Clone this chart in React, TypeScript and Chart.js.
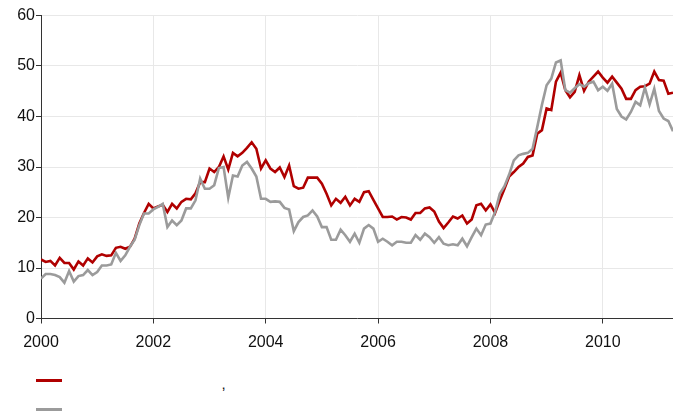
import React, { useEffect, useRef } from "react";
import { Chart, registerables } from "chart.js";

Chart.register(...registerables);

// Monthly series, Jan 2000 onward
const startYear = 2000;
const redValues = [
  11.7, 11.2, 11.4, 10.5, 12.0, 11.0, 11.0, 9.7, 11.3, 10.5, 11.9, 11.1,
  12.3, 12.7, 12.4, 12.5, 14.0, 14.2, 13.8, 14.2, 15.8, 18.8, 20.9, 22.7,
  21.8, 22.2, 22.5, 21.1, 22.7, 21.8, 23.1, 23.7, 23.6, 24.8, 27.0, 27.0,
  29.7, 29.0, 30.0, 32.1, 29.5, 32.8, 32.1, 32.8, 33.8, 34.9, 33.6, 29.7,
  31.3, 29.7, 29.0, 29.9, 28.0, 30.3, 26.2, 25.7, 25.9, 27.9, 27.9, 27.9,
  26.7, 24.7, 22.4, 23.7, 22.9, 24.1, 22.4, 23.7, 23.1, 25.0, 25.2, 23.5,
  21.8, 20.1, 20.1, 20.2, 19.6, 20.1, 20.0, 19.6, 20.9, 20.9, 21.8, 22.0,
  21.2, 19.2, 17.9, 19.0, 20.2, 19.8, 20.4, 18.8, 19.6, 22.4, 22.7, 21.4,
  22.6, 20.9, 23.4, 25.7, 28.1, 29.0, 30.0, 30.7, 32.0, 32.3, 36.6, 37.3,
  41.6, 41.3, 46.9, 48.7, 45.2, 43.8, 44.9, 48.2, 45.1, 46.9, 47.9, 48.9,
  47.7, 46.7, 47.9, 46.7, 45.5, 43.5, 43.5, 45.2, 45.9, 46.0, 46.5, 48.9,
  47.2, 47.1, 44.5, 44.7,
];
const grayValues = [
  7.9, 8.8, 8.8, 8.6, 8.2, 7.1, 9.4, 7.3, 8.4, 8.6, 9.6, 8.6,
  9.2, 10.5, 10.5, 10.7, 13.0, 11.4, 12.5, 14.2, 15.6, 18.5, 20.8, 20.8,
  21.6, 22.1, 22.7, 18.1, 19.4, 18.5, 19.4, 21.8, 21.8, 23.4, 27.7, 25.7,
  25.7, 26.4, 29.8, 30.0, 23.9, 28.3, 28.1, 30.3, 31.0, 29.7, 28.1, 23.7,
  23.7, 23.1, 23.2, 23.1, 21.9, 21.6, 17.3, 19.1, 20.1, 20.4, 21.4, 20.2,
  18.1, 18.1, 15.6, 15.6, 17.6, 16.5, 15.2, 16.8, 15.0, 17.8, 18.5, 17.8,
  15.2, 15.8, 15.2, 14.5, 15.2, 15.2, 15.0, 15.0, 16.5, 15.6, 16.8, 16.1,
  15.0, 16.1, 14.8, 14.5, 14.7, 14.5, 15.8, 14.3, 16.1, 17.8, 16.5, 18.6,
  18.8, 21.1, 24.7, 26.2, 28.5, 31.3, 32.3, 32.6, 32.8, 33.6, 37.9, 42.3,
  46.2, 47.5, 50.7, 51.1, 45.2, 44.7, 45.6, 46.4, 45.9, 46.6, 46.9, 45.2,
  45.9, 45.1, 46.5, 41.5, 40.0, 39.4, 40.9, 42.9, 42.2, 45.7, 42.4, 45.5,
  41.1, 39.6, 39.1, 37.1,
];
const xTickYears = [2000, 2002, 2004, 2006, 2008, 2010];
const yMin = 0;
const yMax = 60;
const yStep = 10;

const RED = "#b00000";
const GRAY = "#9b9b9b";
const FONT = "'Liberation Sans', Arial, sans-serif";

export default function App() {
  const ref = useRef<HTMLCanvasElement>(null);

  useEffect(() => {
    document.body.style.margin = "0";
    const toPoints = (arr: number[]) =>
      arr.map((v, i) => ({ x: startYear + i / 12, y: v }));
    const lastX = startYear + (redValues.length - 1) / 12;

    const chart = new Chart(ref.current!, {
      type: "line",
      data: {
        datasets: [
          {
            data: toPoints(redValues),
            borderColor: RED,
            borderWidth: 2.6,
            pointRadius: 0,
            tension: 0,
            order: 1,
          },
          {
            data: toPoints(grayValues),
            borderColor: GRAY,
            borderWidth: 2.6,
            pointRadius: 0,
            tension: 0,
            order: 0,
          },
        ],
      },
      options: {
        animation: false,
        responsive: false,
        layout: { padding: { top: 15.5, right: 0, left: 0, bottom: 0 } },
        plugins: {
          legend: { display: false },
          tooltip: { enabled: false },
        },
        scales: {
          x: {
            type: "linear",
            min: startYear,
            max: lastX,
            afterBuildTicks: (s: any) => {
              s.ticks = xTickYears.map((v) => ({ value: v }));
            },
            afterFit: (s: any) => {
              s.height = 41.5;
            },
            grid: {
              color: "#e8e8e8",
              tickColor: "#333",
              tickLength: 5,
            },
            border: { color: "#333", width: 1 },
            ticks: {
              callback: (v: any) => String(v),
              font: { family: FONT, size: 16 },
              color: "#111",
              padding: 9,
              maxRotation: 0,
              autoSkip: false,
            },
          },
          y: {
            min: yMin,
            max: yMax,
            afterFit: (s: any) => {
              s.width = 41;
            },
            grid: {
              color: "#e8e8e8",
              tickColor: "#333",
              tickLength: 5,
            },
            border: { color: "#333", width: 1 },
            ticks: {
              stepSize: yStep,
              font: { family: FONT, size: 16 },
              color: "#111",
              padding: 1,
            },
          },
        },
      },
    });
    return () => chart.destroy();
  }, []);

  return (
    <div style={{ position: "absolute", left: 0, top: 0, width: 673, height: 414, background: "#fff" }}>
      <canvas ref={ref} width={673} height={360} style={{ display: "block", width: 673, height: 360 }} />
      <div style={{ position: "absolute", left: 36, top: 379.3, width: 26, height: 3, background: RED }} />
      <div style={{ position: "absolute", left: 36, top: 408, width: 26, height: 3, background: GRAY }} />
      <div
        style={{
          position: "absolute",
          left: 221.5,
          top: 375.8,
          fontFamily: FONT,
          fontSize: 15,
          lineHeight: "15px",
          color: "#111",
        }}
      >
        ,
      </div>
    </div>
  );
}
